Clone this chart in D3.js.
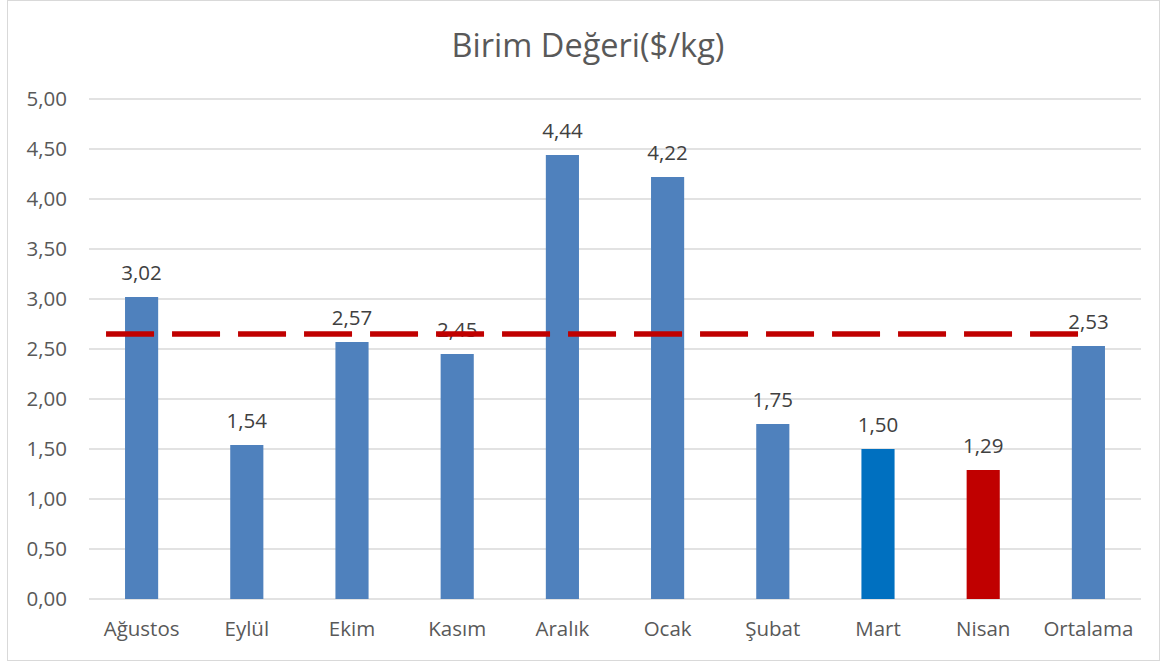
<!DOCTYPE html>
<html><head><meta charset="utf-8">
<script src="https://cdn.jsdelivr.net/npm/d3@7"></script>
<style>body{margin:0;background:#fff;} text{font-family:"Open Sans",sans-serif;}</style>
</head><body>
<svg id="c" width="1167" height="662"></svg>
<script>
const categories = ["Ağustos","Eylül","Ekim","Kasım","Aralık","Ocak","Şubat","Mart","Nisan","Ortalama"];
const values = [3.02,1.54,2.57,2.45,4.44,4.22,1.75,1.50,1.29,2.53];
const barColors = ["#4F81BD","#4F81BD","#4F81BD","#4F81BD","#4F81BD","#4F81BD","#4F81BD","#0070C0","#C00000","#4F81BD"];
const averageLine = 2.65;
const yTicks = [0,0.5,1,1.5,2,2.5,3,3.5,4,4.5,5];
const title = "Birim Değeri($/kg)";

const svg = d3.select("#c");
svg.append("rect").attr("x",7.5).attr("y",0.5).attr("width",1152).attr("height",660)
  .attr("fill","#fff").attr("stroke","#d9d9d9");

const m = {l:89, r:1141, t:99, b:599};
const x = d3.scaleBand().domain(categories).range([m.l,m.r]).paddingInner(0.685).paddingOuter(0.3425);
const y = d3.scaleLinear().domain([0,5]).range([m.b,m.t]);
const fmt = v => d3.format(".2f")(v).replace(".",",");

// grid
svg.append("g").selectAll("line").data(yTicks).join("line")
  .attr("x1",m.l).attr("x2",m.r).attr("y1",d=>y(d)).attr("y2",d=>y(d))
  .attr("stroke","#d9d9d9").attr("stroke-width",1.3);

// y axis labels
const ya = svg.append("g").attr("transform",`translate(${m.l-22},0)`)
  .call(d3.axisLeft(y).tickValues(yTicks).tickFormat(fmt).tickSize(0).tickPadding(0));
ya.select(".domain").remove();
ya.selectAll("text").attr("font-size",20.5).attr("fill","#595959").attr("font-family","Open Sans");

// x axis labels
const xa = svg.append("g").attr("transform",`translate(0,${m.b+22})`)
  .call(d3.axisBottom(x).tickSize(0).tickPadding(0));
xa.select(".domain").remove();
xa.selectAll("text").attr("font-size",20.5).attr("fill","#595959").attr("font-family","Open Sans").attr("dy","0.75em");

// bars
svg.append("g").selectAll("rect").data(values).join("rect")
  .attr("x",(d,i)=>x(categories[i])).attr("width",x.bandwidth())
  .attr("y",d=>y(d)).attr("height",d=>y(0)-y(d))
  .attr("fill",(d,i)=>barColors[i]);

// value labels
svg.append("g").selectAll("text").data(values).join("text")
  .attr("x",(d,i)=>x(categories[i])+x.bandwidth()/2).attr("y",d=>y(d)-17)
  .attr("text-anchor","middle").attr("font-size",20.5).attr("fill","#404040")
  .text(d=>fmt(d));

// average dashed line
const step = x.step();
svg.append("line")
  .attr("x1",x(categories[0])+x.bandwidth()/2 - step*0.338)
  .attr("x2",x(categories[categories.length-1])+x.bandwidth()/2 - step*0.095)
  .attr("y1",y(averageLine)).attr("y2",y(averageLine))
  .attr("stroke","#C00000").attr("stroke-width",5.5).attr("stroke-dasharray","48,18");

// title
svg.append("text").attr("x",588).attr("y",57).attr("text-anchor","middle")
  .attr("font-size",32.5).attr("fill","#595959").text(title);
</script>
</body></html>
